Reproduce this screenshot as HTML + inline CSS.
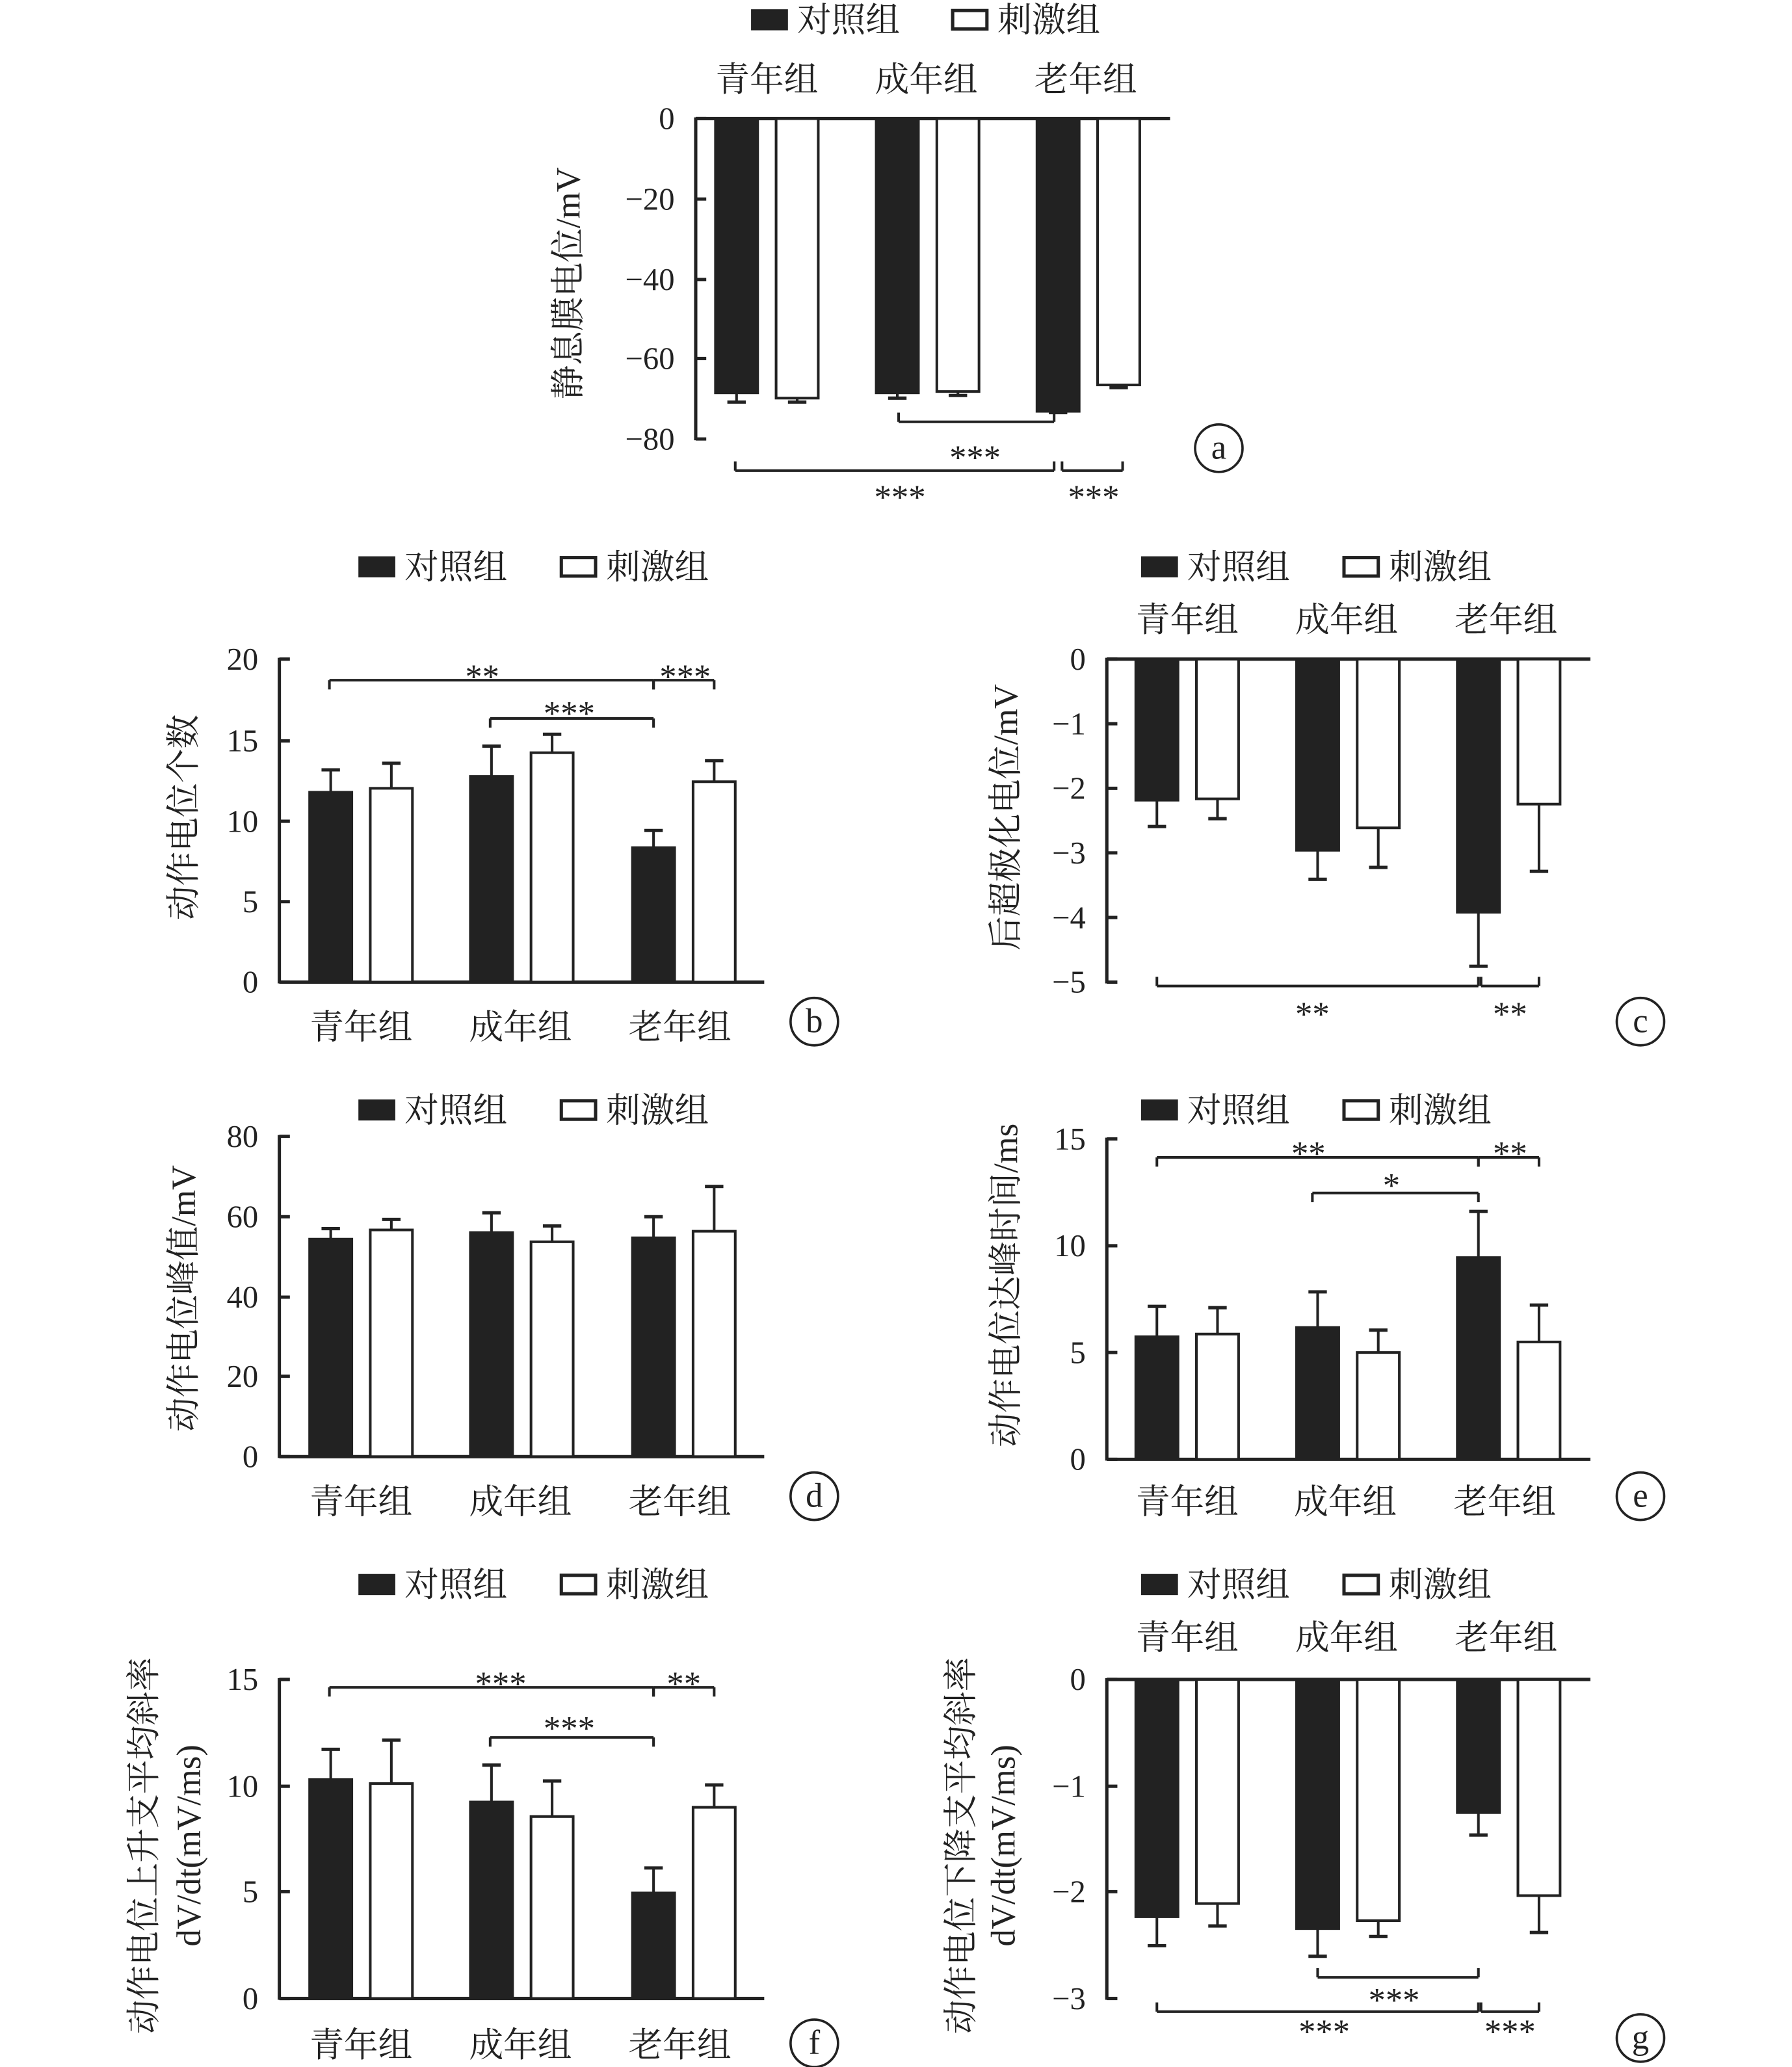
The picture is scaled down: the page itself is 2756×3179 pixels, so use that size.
<!DOCTYPE html>
<html><head><meta charset="utf-8"><style>
html,body{margin:0;padding:0;background:#fff;}
svg{display:block;}
text{font-family:"Liberation Serif","Noto Serif CJK SC",serif;fill:#222;}
</style></head><body>
<svg id="s" width="2756" height="3179" viewBox="0 0 1360 1568" preserveAspectRatio="none" xmlns="http://www.w3.org/2000/svg"></svg>
<script>
const S=document.getElementById('s');let h='';
const K='#222';
function L(x1,y1,x2,y2,w){h+=`<line x1="${x1}" y1="${y1}" x2="${x2}" y2="${y2}" stroke="${K}" stroke-width="${w||2}"/>`;}
function T(x,y,t,sz,anc,extra){h+=`<text x="${x}" y="${y}" font-size="${sz}" text-anchor="${anc||'middle'}" ${extra||''}>${t}</text>`;}
function A(x,y,t){T(x,y+4,t,26);}
function legend(x1,y,x2){h+=`<rect x="${x1}" y="${y-8}" width="28" height="16" fill="${K}"/>`;T(x1+35,y+9,'对照组',26,'start');
 h+=`<rect x="${x2+1}" y="${y-7}" width="26" height="14" fill="#fff" stroke="${K}" stroke-width="2.5"/>`;T(x2+35,y+9,'刺激组',26,'start');}
function groups(cx,y){['青年组','成年组','老年组'].forEach((t,i)=>T(cx+i*121,y+9,t,26));}
function panel(ax,ytop,ybot,ticks,baseY,xr,bars){
 L(ax,ytop-1,ax,ybot+1,2.5);
 ticks.forEach(([y,l])=>{L(ax,y,ax+8,y,2.5);T(ax-16,y+8,l,24,'end');});
 L(ax,baseY,xr,baseY,2.5);
 bars.forEach(([x,a,b,e,bl])=>{
  const y1=Math.min(a,b),y2=Math.max(a,b);
  const tip=(a==baseY)?b:a;
  L(x+16,tip,x+16,e,2);L(x+9,e,x+23,e,2.5);
  h+=`<rect x="${x}" y="${y1}" width="32" height="${y2-y1}" fill="${bl?K:'#fff'}" stroke="${K}" stroke-width="2"/>`;
 });
}
function br(x1,x2,y,dir){L(x1,y,x2,y,2);L(x1,y,x1,y+dir*7,2);L(x2,y,x2,y+dir*7,2);}
function circ(x,y,t){h+=`<circle cx="${x}" cy="${y}" r="18" fill="none" stroke="${K}" stroke-width="1.8"/>`;T(x,y+8,t,26);}
function ylab(x,cy,t){T(x,cy,t,26,'middle',`transform="rotate(-90 ${x} ${cy})"`);}
function mk(xs,tops,errs,base){let r=[];xs.forEach((x,i)=>r.push([x,base,tops[i],errs[i],i%2==0]));return r;}
const xsL=[235,281,357,403,480,526], xsR=[862,908,984,1030,1106,1152], xsA=[543,589,665,711,787,833];
// a
legend(570,15,722);groups(582,60);
panel(528,90,333,[[90,'0'],[151,'−20'],[212,'−40'],[272,'−60'],[333,'−80']],90,888,
 mk(xsA,[298,302,298,297,312,292],[305,305,302,300,313,294],90).map(b=>[b[0],b[2],90,b[3],b[4]]));
br(682,800,320,-1);A(740,352,'***');br(558,800,357,-1);br(806,852,357,-1);A(683,382,'***');A(830,382,'***');
circ(925,340,'a');ylab(440,215,'静息膜电位/mV');
// b
legend(272,430,425);
panel(212,500,745,[[500,'20'],[562,'15'],[623,'10'],[684,'5'],[745,'0']],745,580,
 mk(xsL,[601,598,589,571,643,593],[584,579,566,557,630,577],745));
T(274,788,'青年组',26);T(395,788,'成年组',26);T(516,788,'老年组',26);
br(250,496,516,1);br(496,542,516,1);br(372,496,545,1);A(366,518,'**');A(520,518,'***');A(432,546,'***');
circ(618,775,'b');ylab(148,620,'动作电位个数');
// c
legend(866,430,1019);groups(901,470);
panel(840,500,745,[[500,'0'],[549,'−1'],[598,'−2'],[647,'−3'],[696,'−4'],[745,'−5']],500,1207,
 mk(xsR,[607,606,645,628,692,610],[627,621,667,658,733,661],500).map(b=>[b[0],b[2],500,b[3],b[4]]));
br(878,1122,748,-1);br(1124,1168,748,-1);A(996,774,'**');A(1146,774,'**');
circ(1245,775,'c');ylab(772,620,'后超极化电位/mV');
// d
legend(272,842,425);
panel(212,862,1105,[[862,'80'],[923,'60'],[984,'40'],[1044,'20'],[1105,'0']],1105,580,
 mk(xsL,[940,933,935,942,939,934],[932,925,920,930,923,900],1105));
T(274,1148,'青年组',26);T(395,1148,'成年组',26);T(516,1148,'老年组',26);
circ(618,1135,'d');ylab(148,985,'动作电位峰值/mV');
// e
legend(866,842,1019);
panel(840,864,1107,[[864,'15'],[945,'10'],[1026,'5'],[1107,'0']],1107,1207,
 mk(xsR,[1014,1012,1007,1026,954,1018],[991,992,980,1009,919,990],1107));
T(901,1148,'青年组',26);T(1021,1148,'成年组',26);T(1142,1148,'老年组',26);
br(878,1122,878,1);br(1122,1168,878,1);br(996,1122,905,1);A(993,880,'**');A(1146,880,'**');A(1056,904,'*');
circ(1245,1135,'e');ylab(772,975,'动作电位达峰时间/ms');
// f
legend(272,1202,425);
panel(212,1274,1516,[[1274,'15'],[1355,'10'],[1435,'5'],[1516,'0']],1516,580,
 mk(xsL,[1350,1353,1367,1378,1436,1371],[1327,1320,1339,1351,1417,1354],1516));
T(274,1560,'青年组',26);T(395,1560,'成年组',26);T(516,1560,'老年组',26);
br(250,496,1280,1);br(496,542,1280,1);br(372,496,1318,1);A(380,1282,'***');A(519,1282,'**');A(432,1316,'***');
circ(618,1550,'f');ylab(118,1400,'动作电位上升支平均斜率');ylab(152,1400,'dV/dt(mV/ms)');
// g
legend(866,1202,1019);groups(901,1242);
panel(840,1274,1516,[[1274,'0'],[1355,'−1'],[1435,'−2'],[1516,'−3']],1274,1207,
 mk(xsR,[1454,1444,1463,1457,1375,1438],[1476,1461,1484,1469,1392,1466],1274).map(b=>[b[0],b[2],1274,b[3],b[4]]));
br(1000,1122,1500,-1);br(878,1122,1526,-1);br(1124,1168,1526,-1);A(1058,1522,'***');A(1005,1546,'***');A(1146,1546,'***');
circ(1245,1546,'g');ylab(738,1400,'动作电位下降支平均斜率');ylab(770,1400,'dV/dt(mV/ms)');
S.innerHTML=h;
</script>
</body></html>
